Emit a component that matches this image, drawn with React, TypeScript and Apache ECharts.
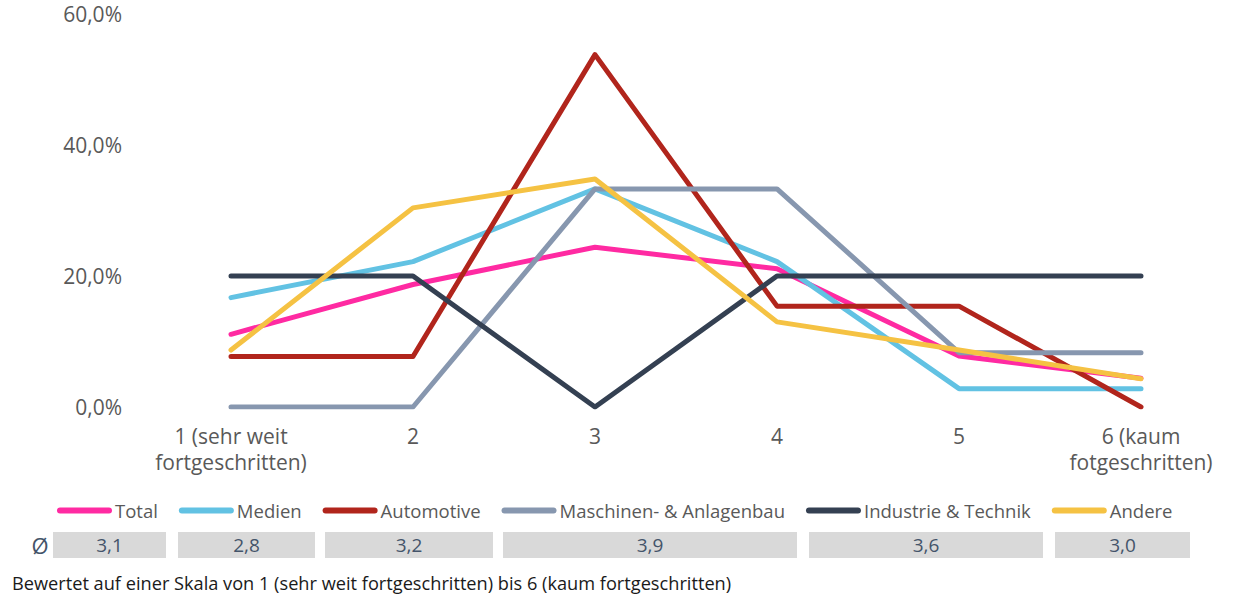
import React, { useEffect, useRef } from "react";
import * as echarts from "echarts";

const categories = [
  "1 (sehr weit\nfortgeschritten)",
  "2",
  "3",
  "4",
  "5",
  "6 (kaum\nfotgeschritten)",
];
const seriesNames = [
  "Total",
  "Medien",
  "Automotive",
  "Maschinen- & Anlagenbau",
  "Industrie & Technik",
  "Andere",
];
const totalValues = [11.1, 18.7, 24.4, 21.1, 7.8, 4.4];
const medienValues = [16.7, 22.2, 33.3, 22.2, 2.8, 2.8];
const automotiveValues = [7.7, 7.7, 53.8, 15.4, 15.4, 0];
const maschinenValues = [0, 0, 33.3, 33.3, 8.3, 8.3];
const industrieValues = [20, 20, 0, 20, 20, 20];
const andereValues = [8.7, 30.4, 34.8, 13.0, 8.7, 4.3];
const averages = ["3,1", "2,8", "3,2", "3,9", "3,6", "3,0"];
const yTicks = { min: 0, max: 60, interval: 20 };
const footnote =
  "Bewertet auf einer Skala von 1 (sehr weit fortgeschritten) bis 6 (kaum fortgeschritten)";

const colors = ["#FF2AA2", "#62C2E3", "#B1251C", "#8797AF", "#344052", "#F5C243"];
const boxSpans = [
  [53, 166],
  [178, 315],
  [325, 493],
  [503, 797],
  [809, 1043],
  [1055, 1190],
];

const FONT = "'Open Sans'";

export default function App() {
  const ref = useRef<HTMLDivElement>(null);
  useEffect(() => {
    if (!ref.current) return;
    const chart = echarts.init(ref.current, undefined, { renderer: "svg" });
    const allValues = [
      totalValues,
      medienValues,
      automotiveValues,
      maschinenValues,
      industrieValues,
      andereValues,
    ];
    const graphic: any[] = [];
    graphic.push({
      type: "text",
      x: 40,
      y: 545,
      style: {
        text: "Ø",
        fontSize: 22,
        fill: "#44546A",
        fontFamily: FONT,
        align: "center",
        verticalAlign: "middle",
      },
    });
    boxSpans.forEach((s, i) => {
      graphic.push({
        type: "rect",
        shape: { x: s[0], y: 532, width: s[1] - s[0], height: 26 },
        style: { fill: "#D9D9D9" },
      });
      graphic.push({
        type: "text",
        x: (s[0] + s[1]) / 2,
        y: 545,
        style: {
          text: averages[i],
          fontSize: 19,
          fill: "#44546A",
          fontFamily: FONT,
          align: "center",
          verticalAlign: "middle",
        },
      });
    });
    graphic.push({
      type: "text",
      x: 12,
      y: 583,
      style: {
        text: footnote,
        fontSize: 18.2,
        fill: "#1a1a1a",
        fontFamily: FONT,
        verticalAlign: "middle",
      },
    });
    chart.setOption({
      animation: false,
      textStyle: { fontFamily: FONT },
      grid: { left: 140, right: 15, top: 14, bottom: 191 },
      legend: {
        left: 57,
        top: 501,
        padding: 0,
        itemWidth: 55,
        itemHeight: 6,
        itemGap: 21,
        icon: "path://M3,0H52A3,3,0,0,1,52,6H3A3,3,0,0,1,3,0Z",
        textStyle: {
          fontSize: 18.5,
          color: "#595959",
          fontFamily: FONT,
          padding: [0, 0, 0, -2],
        },
        data: seriesNames,
      },
      xAxis: {
        type: "category",
        data: categories,
        boundaryGap: true,
        axisLine: { show: false },
        axisTick: { show: false },
        axisLabel: {
          fontSize: 21,
          color: "#595959",
          lineHeight: 26,
          margin: 16,
          interval: 0,
          fontFamily: FONT,
        },
      },
      yAxis: {
        type: "value",
        min: yTicks.min,
        max: yTicks.max,
        interval: yTicks.interval,
        splitLine: { show: false },
        axisLine: { show: false },
        axisTick: { show: false },
        axisLabel: {
          fontSize: 21,
          color: "#595959",
          margin: 18,
          fontFamily: FONT,
          formatter: (v: number) => v.toFixed(1).replace(".", ",") + "%",
        },
      },
      series: seriesNames.map((name, i) => ({
        name,
        type: "line",
        data: allValues[i],
        color: colors[i],
        showSymbol: false,
        symbol: "none",
        lineStyle: { width: 5, color: colors[i], cap: "round", join: "round" },
        emphasis: { disabled: true },
      })),
      graphic,
    });
    return () => chart.dispose();
  }, []);
  return (
    <div
      ref={ref}
      style={{ position: "absolute", left: 0, top: 0, width: 1247, height: 598 }}
    />
  );
}
